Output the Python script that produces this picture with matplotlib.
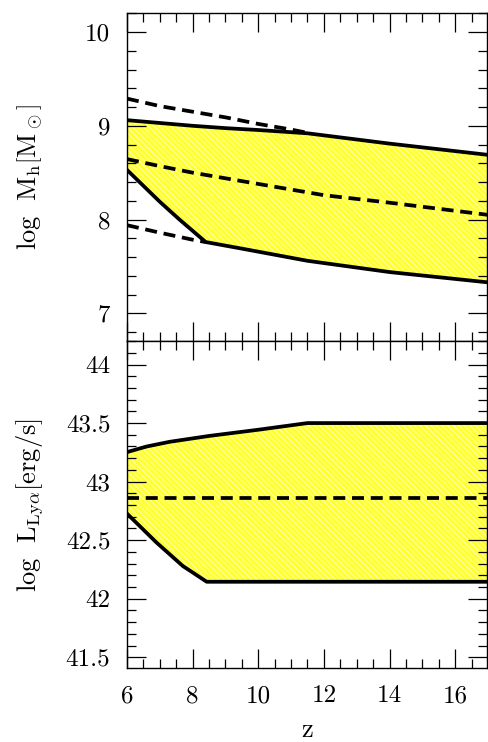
import numpy as np
import matplotlib
matplotlib.use("Agg")
import matplotlib.pyplot as plt
from matplotlib.ticker import MultipleLocator, FormatStrFormatter

plt.rcParams['font.family'] = ['cmr10', 'DejaVu Serif']
plt.rcParams['mathtext.fontset'] = 'cm'
plt.rcParams['axes.formatter.use_mathtext'] = True
plt.rcParams['hatch.linewidth'] = 0.6

# ---- upper panel: halo mass vs redshift ----
mh_top_z = [6, 7, 8, 9, 10, 11.5, 14, 17]
mh_top = [9.06, 9.03, 9.00, 8.975, 8.955, 8.92, 8.81, 8.69]

mh_bot_z = [6, 6.5, 7, 7.6, 8.4, 9.5, 11.5, 14, 17]
mh_bot = [8.53, 8.36, 8.19, 8.00, 7.76, 7.69, 7.56, 7.44, 7.33]

mh_dhi_z = [6, 7, 8, 9, 10, 11, 11.5]
mh_dhi = [9.29, 9.21, 9.15, 9.09, 9.02, 8.96, 8.925]

mh_dmid_z = [6, 7, 8, 9, 10, 12, 14, 17]
mh_dmid = [8.645, 8.57, 8.50, 8.44, 8.38, 8.26, 8.18, 8.05]

mh_dlo_z = [6, 7, 8, 8.4]
mh_dlo = [7.94, 7.86, 7.785, 7.76]

# ---- lower panel: Lya luminosity vs redshift ----
ll_top_z = [6, 6.6, 7.3, 8.5, 10, 11.5, 17]
ll_top = [43.252, 43.30, 43.34, 43.39, 43.443, 43.50, 43.50]

ll_bot_z = [6, 6.9, 7.7, 8.43, 17]
ll_bot = [42.727, 42.48, 42.28, 42.145, 42.145]

ll_dash_z = [6, 17]
ll_dash = [42.86, 42.86]

fill_col = '#ffff33'
hatch_col = '#ffffb8'

fig = plt.figure(figsize=(4.88, 7.42), dpi=100)
ax1 = fig.add_axes([0.2602, 0.5411, 0.7377, 0.4410])
ax2 = fig.add_axes([0.2602, 0.0993, 0.7377, 0.4418])

lw = 2.7
dash = (3.2, 1.8)

# upper
ax1.fill(np.concatenate([mh_top_z, mh_bot_z[::-1]]),
         np.concatenate([mh_top, mh_bot[::-1]]),
         facecolor=fill_col, edgecolor=hatch_col, hatch='\\\\\\\\\\\\', linewidth=0, zorder=1)
ax1.plot(mh_top_z, mh_top, color='black', lw=lw, zorder=3)
ax1.plot(mh_bot_z, mh_bot, color='black', lw=lw, zorder=3)
for zz, vv in [(mh_dhi_z, mh_dhi), (mh_dmid_z, mh_dmid), (mh_dlo_z, mh_dlo)]:
    ax1.plot(zz, vv, color='black', lw=lw, dashes=dash, zorder=3)
ax1.set_ylim(6.71, 10.2)
ax1.yaxis.set_major_locator(MultipleLocator(1))
ax1.yaxis.set_minor_locator(MultipleLocator(0.2))
ax1.yaxis.set_major_formatter(FormatStrFormatter('%g'))

# lower
ax2.fill(np.concatenate([ll_top_z, ll_bot_z[::-1]]),
         np.concatenate([ll_top, ll_bot[::-1]]),
         facecolor=fill_col, edgecolor=hatch_col, hatch='\\\\\\\\\\\\', linewidth=0, zorder=1)
ax2.plot(ll_top_z, ll_top, color='black', lw=lw, zorder=3)
ax2.plot(ll_bot_z, ll_bot, color='black', lw=lw, zorder=3)
ax2.plot(ll_dash_z, ll_dash, color='black', lw=lw, dashes=dash, zorder=3)
ax2.set_ylim(41.406, 44.205)
ax2.yaxis.set_major_locator(MultipleLocator(0.5))
ax2.yaxis.set_minor_locator(MultipleLocator(0.1))
ax2.yaxis.set_major_formatter(FormatStrFormatter('%g'))

for ax in (ax1, ax2):
    ax.set_xlim(6, 16.97)
    ax.xaxis.set_major_locator(MultipleLocator(2))
    ax.xaxis.set_minor_locator(MultipleLocator(0.5))
    ax.xaxis.set_major_formatter(FormatStrFormatter('%g'))
    ax.tick_params(which='both', direction='in', top=True, right=True,
                   labelsize=18, pad=12, width=0.9, color='black')
    ax.tick_params(which='major', length=14)
    ax.tick_params(which='minor', length=6.5)
    for s in ax.spines.values():
        s.set_linewidth(1.0)

ax1.tick_params(labelbottom=False)

fig.text(30 / 488, 1 - 177 / 742, r'$\mathrm{log\ \ M_h}\left[\mathrm{M}_\odot\right]$',
         rotation=90, ha='center', va='center', fontsize=19)
fig.text(30 / 488, 1 - 505 / 742, r'$\mathrm{log\ \ L_{Ly\alpha}}\left[\mathrm{erg/s}\right]$',
         rotation=90, ha='center', va='center', fontsize=19)
fig.text(307 / 488, 1 - 730 / 742, 'z', ha='center', va='center', fontsize=19)

fig.savefig('out.png', dpi=100)
